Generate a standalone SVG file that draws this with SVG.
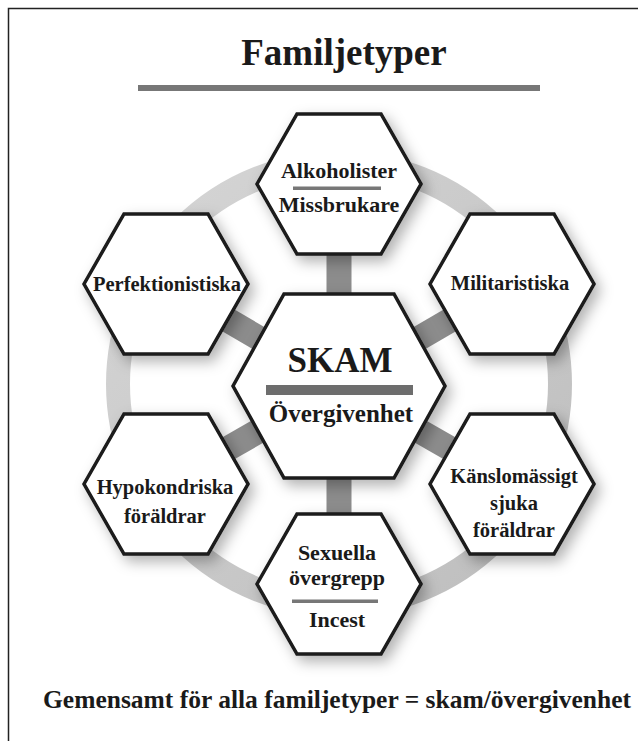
<svg xmlns="http://www.w3.org/2000/svg" xmlns:xlink="http://www.w3.org/1999/xlink" width="638" height="741" viewBox="0 0 638 741">
<style>
  .hex { fill: #ffffff; stroke: #1a1a1a; stroke-width: 3.5; stroke-linejoin: miter; }
  .lbl { font-family: "Liberation Serif", "Times New Roman", serif; font-weight: bold; fill: #1a1a1a; text-anchor: middle; }
  .side { font-size: 20.5px; }
  .tb { font-size: 22px; }
  .bar { fill: #777777; }
  .spoke { stroke: #8c8c8c; stroke-width: 25; }
</style>
<defs>
  <polygon id="hexO" points="-82,0 -42,-70 42,-70 82,0 42,70 -42,70"/>
  <filter id="sh" x="-30%" y="-30%" width="160%" height="160%">
    <feDropShadow dx="5" dy="6" stdDeviation="7" flood-color="#000" flood-opacity="0.3"/>
  </filter>
  <linearGradient id="ringG" x1="0" y1="0" x2="1" y2="1">
    <stop offset="0" stop-color="#d6d6d6"/>
    <stop offset="1" stop-color="#bdbdbd"/>
  </linearGradient>
</defs>
<rect width="638" height="741" fill="#ffffff"/>
<rect x="8.5" y="8.5" width="700" height="800" fill="none" stroke="#222" stroke-width="1.5"/>

<g id="title">
  <text class="lbl" x="344" y="65" font-size="37">Familjetyper</text>
  <rect x="138" y="85" width="402" height="6" class="bar"/>
</g>

<g id="ring">
  <circle cx="339" cy="384" r="221" fill="none" stroke="url(#ringG)" stroke-width="24"/>
</g>

<g id="connectors">
  <line class="spoke" x1="339" y1="385" x2="339" y2="184"/>
  <line class="spoke" x1="339" y1="385" x2="339" y2="584"/>
  <line class="spoke" x1="339" y1="385" x2="166" y2="284"/>
  <line class="spoke" x1="339" y1="385" x2="512" y2="284"/>
  <line class="spoke" x1="339" y1="385" x2="166" y2="484"/>
  <line class="spoke" x1="339" y1="385" x2="512" y2="484"/>
</g>

<g id="alkoholister">
  <use xlink:href="#hexO" href="#hexO" x="339" y="184" class="hex" filter="url(#sh)"/>
  <text class="lbl tb" x="339" y="178">Alkoholister</text>
  <rect x="293" y="186.5" width="88" height="3.5" class="bar"/>
  <text class="lbl tb" x="339" y="212">Missbrukare</text>
</g>

<g id="perfektionistiska">
  <use xlink:href="#hexO" href="#hexO" x="166" y="284" class="hex" filter="url(#sh)"/>
  <text class="lbl side" x="167" y="291">Perfektionistiska</text>
</g>

<g id="militaristiska">
  <use xlink:href="#hexO" href="#hexO" x="512" y="284" class="hex" filter="url(#sh)"/>
  <text class="lbl side" x="510" y="290">Militaristiska</text>
</g>

<g id="hypokondriska">
  <use xlink:href="#hexO" href="#hexO" x="166" y="484" class="hex" filter="url(#sh)"/>
  <text class="lbl side" x="165" y="494">Hypokondriska</text>
  <text class="lbl side" x="165" y="523">föräldrar</text>
</g>

<g id="kanslomassigt">
  <use xlink:href="#hexO" href="#hexO" x="512" y="484" class="hex" filter="url(#sh)"/>
  <text class="lbl side" x="514" y="483">Känslomässigt</text>
  <text class="lbl side" x="514" y="510">sjuka</text>
  <text class="lbl side" x="514" y="537">föräldrar</text>
</g>

<g id="sexuella">
  <use xlink:href="#hexO" href="#hexO" x="339" y="584" class="hex" filter="url(#sh)"/>
  <text class="lbl tb" x="337" y="560">Sexuella</text>
  <text class="lbl tb" x="337" y="585">övergrepp</text>
  <rect x="292" y="599.5" width="86" height="3.5" class="bar"/>
  <text class="lbl tb" x="337" y="627">Incest</text>
</g>

<g id="skam">
  <polygon class="hex" filter="url(#sh)" points="233,386 284,294 394,294 445,386 394,478 284,478"/>
  <text class="lbl" x="340" y="372" font-size="35">SKAM</text>
  <rect x="266" y="385" width="147" height="10" fill="#6d6d6d"/>
  <text class="lbl" x="341" y="422" font-size="25">Övergivenhet</text>
</g>

<g id="footer">
  <text class="lbl" x="337" y="708" font-size="25.5">Gemensamt för alla familjetyper = skam/övergivenhet</text>
</g>
</svg>
